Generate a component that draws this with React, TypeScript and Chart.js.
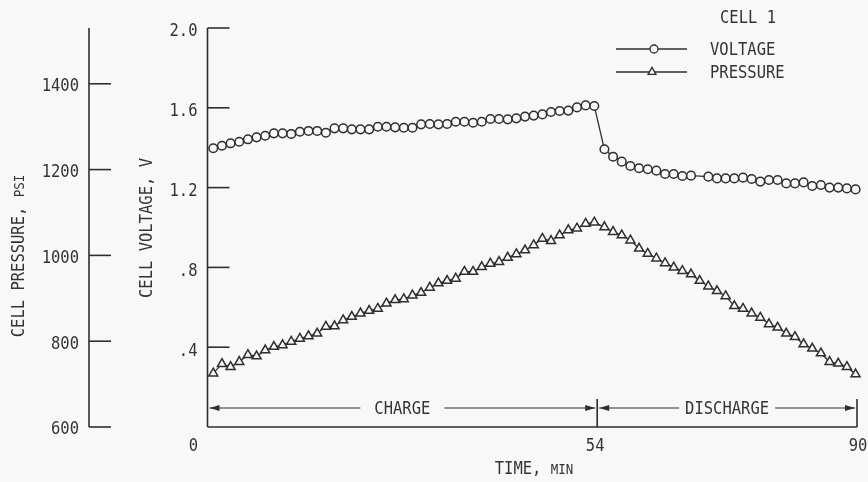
import React, { useEffect, useRef } from 'react';
import { Chart, registerables } from 'chart.js';

Chart.register(...registerables);

// ---- data -----------------------------------------------------------------
// Time (min) of each reading during the charge half of the cycle
const CHARGE_TIME = [
  0.8, 2.0, 3.2, 4.4, 5.6, 6.8, 8.0, 9.2, 10.4, 11.6,
  12.8, 14.0, 15.2, 16.4, 17.6, 18.8, 20.0, 21.2, 22.4, 23.6,
  24.8, 26.0, 27.2, 28.4, 29.6, 30.8, 32.0, 33.2, 34.4, 35.6,
  36.8, 38.0, 39.2, 40.4, 41.6, 42.8, 44.0, 45.2, 46.4, 47.6,
  48.8, 50.0, 51.2, 52.4, 53.6,
];
// Cell voltage (V) during charge
const VOLTAGE_CHARGE = [
  1.397, 1.410, 1.422, 1.430, 1.442, 1.452, 1.460, 1.472, 1.472, 1.469,
  1.480, 1.484, 1.484, 1.475, 1.497, 1.497, 1.492, 1.492, 1.492, 1.505,
  1.505, 1.502, 1.500, 1.500, 1.517, 1.519, 1.517, 1.519, 1.530, 1.530,
  1.525, 1.530, 1.544, 1.544, 1.542, 1.547, 1.556, 1.561, 1.567, 1.579,
  1.584, 1.586, 1.602, 1.612, 1.609,
];
// Cell pressure (psi) during charge
const PRESSURE_CHARGE = [
  725, 747, 740, 752, 768, 765, 779, 787, 791, 799,
  806, 812, 818, 834, 835, 849, 857, 865, 871, 876,
  888, 896, 898, 907, 913, 925, 935, 941, 946, 962,
  962, 973, 981, 985, 995, 1003, 1012, 1024, 1039, 1034,
  1047, 1059, 1063, 1074, 1077,
];
// Time (min) of each reading during discharge
const DISCHARGE_TIME = [
  55.0, 56.2, 57.4, 58.6, 59.8, 61.0, 62.2, 63.4, 64.6, 65.8,
  67.0, 68.2, 69.4, 70.6, 71.8, 73.0, 74.2, 75.4, 76.6, 77.8,
  79.0, 80.2, 81.4, 82.6, 83.8, 85.0, 86.2, 87.4, 88.6, 89.8,
];
// Cell voltage (V) during discharge (one reading missing)
const VOLTAGE_DISCHARGE = [
  1.392, 1.355, 1.330, 1.308, 1.297, 1.292, 1.285, 1.268, 1.268, 1.258,
  1.260, null, 1.255, 1.246, 1.246, 1.246, 1.250, 1.243, 1.230, 1.238,
  1.238, 1.221, 1.221, 1.226, 1.208, 1.213, 1.200, 1.200, 1.196, 1.191,
];
// Cell pressure (psi) during discharge
const PRESSURE_DISCHARGE = [
  1066, 1055, 1047, 1035, 1016, 1004, 993, 982, 972, 964,
  956, 941, 928, 917, 905, 882, 876, 865, 855, 840,
  832, 818, 810, 793, 783, 772, 752, 748, 740, 723,
];

const TIME_TICKS = [0, 54, 90];
const VOLTAGE_TICKS = [0.4, 0.8, 1.2, 1.6, 2.0];
const VOLTAGE_TICK_LABELS = ['.4', '.8', '1.2', '1.6', '2.0'];
const PRESSURE_TICKS = [600, 800, 1000, 1200, 1400];

const PHASES = [
  { label: 'CHARGE', from: 0, to: 54 },
  { label: 'DISCHARGE', from: 54, to: 90 },
];

// ---- style ----------------------------------------------------------------
const PAPER = '#f8f8f8';
const INK = '#2e2e2e';
const TEXT = '#333333';
const FONT = '"DejaVu Sans Mono", "Liberation Mono", monospace';
const SIZE = 15.5;
const SMALL = 12.5;
// lettering is drawn a little taller than the font's natural proportions
const STRETCH = 1.13;

type Part = [string, number];

function drawLabel(
  ctx: CanvasRenderingContext2D,
  parts: Part[],
  x: number,
  y: number,
  align: 'left' | 'right' | 'center',
  angle = 0,
) {
  ctx.save();
  ctx.translate(x, y);
  if (angle) ctx.rotate(angle);
  ctx.scale(1, STRETCH);
  const widths = parts.map(([t, s]) => {
    ctx.font = `${s}px ${FONT}`;
    return ctx.measureText(t).width;
  });
  const total = widths.reduce((a, b) => a + b, 0);
  const maxSize = Math.max(...parts.map((p) => p[1]));
  let cx = align === 'left' ? 0 : align === 'right' ? -total : -total / 2;
  const base = (maxSize * 0.729) / 2;
  ctx.fillStyle = TEXT;
  ctx.textAlign = 'left';
  ctx.textBaseline = 'alphabetic';
  parts.forEach(([t, s], i) => {
    ctx.font = `${s}px ${FONT}`;
    ctx.fillText(t, cx, base);
    cx += widths[i];
  });
  ctx.restore();
}

function line(ctx: CanvasRenderingContext2D, x1: number, y1: number, x2: number, y2: number) {
  ctx.beginPath();
  ctx.moveTo(x1, y1);
  ctx.lineTo(x2, y2);
  ctx.stroke();
}

function arrowHead(ctx: CanvasRenderingContext2D, tipX: number, y: number, dir: number) {
  ctx.beginPath();
  ctx.moveTo(tipX, y);
  ctx.lineTo(tipX - dir * 10, y - 3);
  ctx.lineTo(tipX - dir * 10, y + 3);
  ctx.closePath();
  ctx.fill();
}

function drawCircleMarker(ctx: CanvasRenderingContext2D, x: number, y: number, r: number) {
  ctx.beginPath();
  ctx.arc(x, y, r, 0, Math.PI * 2);
  ctx.fillStyle = PAPER;
  ctx.fill();
  ctx.stroke();
}

function drawTriangleMarker(ctx: CanvasRenderingContext2D, x: number, y: number, r: number) {
  ctx.beginPath();
  for (let k = 0; k < 3; k++) {
    const a = (k * 2 * Math.PI) / 3;
    const px = x + Math.sin(a) * r;
    const py = y - Math.cos(a) * r;
    if (k === 0) ctx.moveTo(px, py);
    else ctx.lineTo(px, py);
  }
  ctx.closePath();
  ctx.fillStyle = PAPER;
  ctx.fill();
  ctx.stroke();
}

const paperPlugin = {
  id: 'paper',
  beforeDraw(chart: any) {
    const { ctx, width, height } = chart;
    ctx.save();
    ctx.fillStyle = PAPER;
    ctx.fillRect(0, 0, width, height);
    ctx.restore();
  },
};

const framePlugin = {
  id: 'frame',
  beforeDatasetsDraw(chart: any) {
    const { ctx, chartArea } = chart;
    const xs = chart.scales.x;
    const vs = chart.scales.yVolt;
    const ps = chart.scales.yPsi;
    const x0 = xs.getPixelForValue(0);
    const xEnd = xs.getPixelForValue(90);
    const yBottom = vs.getPixelForValue(0);
    const yTop = vs.getPixelForValue(2.0);

    ctx.save();
    ctx.strokeStyle = INK;
    ctx.fillStyle = INK;
    ctx.lineWidth = 1.6;
    ctx.lineCap = 'butt';

    // voltage axis with inward ticks
    line(ctx, x0, yTop, x0, yBottom);
    line(ctx, x0, yBottom, xEnd, yBottom);
    VOLTAGE_TICKS.forEach((v, i) => {
      const y = vs.getPixelForValue(v);
      line(ctx, x0, y, x0 + 22, y);
      drawLabel(ctx, [[VOLTAGE_TICK_LABELS[i], SIZE]], x0 - 10, y + 2, 'right');
    });

    // pressure axis, offset to the far left
    const px = 89;
    line(ctx, px, chartArea.top, px, chartArea.bottom);
    PRESSURE_TICKS.forEach((p) => {
      const y = ps.getPixelForValue(p);
      line(ctx, px, y, px + 22, y);
      drawLabel(ctx, [[String(p), SIZE]], px - 10, y + 1, 'right');
    });

    // time labels
    TIME_TICKS.forEach((t) => {
      const x = xs.getPixelForValue(t);
      const shift = t === 0 ? -14 : t === 90 ? 1 : -2;
      drawLabel(ctx, [[String(t), SIZE]], x + shift, yBottom + 18, 'center');
    });

    // charge / discharge span arrows
    const arrowY = yBottom - 19;
    [54, 90].forEach((t) => {
      const x = xs.getPixelForValue(t);
      ctx.lineWidth = 1.6;
      line(ctx, x, yBottom, x, yBottom - 28);
    });
    ctx.lineWidth = 1.2;
    PHASES.forEach((ph, i) => {
      const a = xs.getPixelForValue(ph.from) + 2;
      const b = xs.getPixelForValue(ph.to) - 2;
      const c = xs.getPixelForValue((ph.from + ph.to) / 2);
      ctx.font = `${SIZE}px ${FONT}`;
      const w = ctx.measureText(ph.label).width;
      const pad = i === 0 ? 14 : 6;
      line(ctx, a, arrowY, c - w / 2 - pad, arrowY);
      line(ctx, c + w / 2 + pad, arrowY, b, arrowY);
      arrowHead(ctx, a, arrowY, -1);
      arrowHead(ctx, b, arrowY, 1);
      drawLabel(ctx, [[ph.label, SIZE]], c, arrowY, 'center');
    });

    // axis titles
    drawLabel(ctx, [['TIME, ', SIZE], ['MIN', SMALL]], 534, 468, 'center');
    drawLabel(ctx, [['CELL VOLTAGE, V', SIZE]], 146, 228, 'center', -Math.PI / 2);
    drawLabel(ctx, [['CELL PRESSURE, ', SIZE], ['PSI', SMALL]], 18, 256, 'center', -Math.PI / 2);

    // legend
    drawLabel(ctx, [['CELL 1', SIZE]], 748, 17, 'center');
    ctx.lineWidth = 1.3;
    ctx.strokeStyle = INK;
    line(ctx, 616, 49, 687, 49);
    drawCircleMarker(ctx, 654, 49, 4);
    drawLabel(ctx, [['VOLTAGE', SIZE]], 710, 49, 'left');
    line(ctx, 616, 72, 687, 72);
    drawTriangleMarker(ctx, 652, 72, 4.6);
    drawLabel(ctx, [['PRESSURE', SIZE]], 710, 72, 'left');

    ctx.restore();
  },
};

export default function App() {
  const canvasRef = useRef<HTMLCanvasElement | null>(null);

  useEffect(() => {
    const canvas = canvasRef.current;
    if (!canvas) return;

    const voltagePoints = [
      ...CHARGE_TIME.map((t, i) => ({ x: t, y: VOLTAGE_CHARGE[i] })),
      ...DISCHARGE_TIME.map((t, i) => ({ x: t, y: VOLTAGE_DISCHARGE[i] })),
    ];
    const pressurePoints = [
      ...CHARGE_TIME.map((t, i) => ({ x: t, y: PRESSURE_CHARGE[i] })),
      ...DISCHARGE_TIME.map((t, i) => ({ x: t, y: PRESSURE_DISCHARGE[i] })),
    ];

    const chart = new Chart(canvas, {
      type: 'line',
      data: {
        datasets: [
          {
            label: 'VOLTAGE',
            data: voltagePoints as any,
            yAxisID: 'yVolt',
            borderColor: INK,
            borderWidth: 1.3,
            pointStyle: 'circle',
            pointRadius: 4.3,
            pointBorderWidth: 1.5,
            pointBorderColor: INK,
            pointBackgroundColor: PAPER,
            spanGaps: true,
            tension: 0,
            clip: false as any,
          },
          {
            label: 'PRESSURE',
            data: pressurePoints as any,
            yAxisID: 'yPsi',
            borderColor: INK,
            borderWidth: 1.3,
            pointStyle: 'triangle',
            pointRadius: 5.2,
            pointBorderWidth: 1.5,
            pointBorderColor: INK,
            pointBackgroundColor: PAPER,
            tension: 0,
            clip: false as any,
          },
        ],
      },
      options: {
        responsive: false,
        devicePixelRatio: 1,
        animation: false,
        events: [],
        layout: { padding: { left: 207.5, right: 11, top: 28, bottom: 55 } },
        plugins: { legend: { display: false }, tooltip: { enabled: false } },
        scales: {
          x: { type: 'linear', min: 0, max: 90, display: false },
          yVolt: { type: 'linear', axis: 'y', position: 'left', min: 0, max: 2.0, display: false },
          yPsi: { type: 'linear', axis: 'y', position: 'left', min: 600, max: 1530, display: false },
        },
      },
      plugins: [paperPlugin, framePlugin],
    });

    return () => chart.destroy();
  }, []);

  return (
    <div style={{ position: 'absolute', left: 0, top: 0, width: 868, height: 482, background: PAPER }}>
      <canvas ref={canvasRef} width={868} height={482} style={{ display: 'block' }} />
    </div>
  );
}
